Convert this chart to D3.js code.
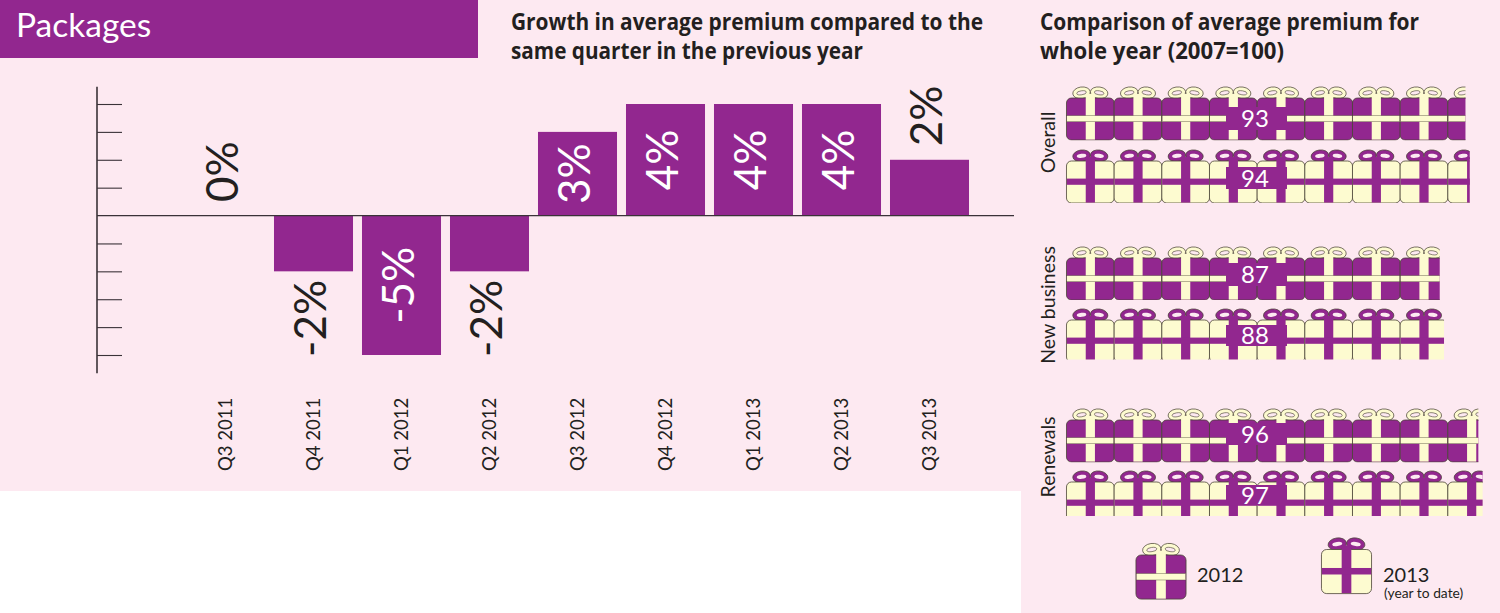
<!DOCTYPE html>
<html><head><meta charset="utf-8">
<script src="https://cdn.jsdelivr.net/npm/d3@7"></script>
<style>
html,body{margin:0;padding:0;background:#fff}
svg{display:block}
text{font-family:Lato,"Open Sans",sans-serif;fill:#231f20}
</style></head><body><div id="c"></div>
<script>
// ---- data ----
const quarters = ["Q3 2011","Q4 2011","Q1 2012","Q2 2012","Q3 2012","Q4 2012","Q1 2013","Q2 2013","Q3 2013"];
const growth = [0,-2,-5,-2,3,4,4,4,2];
const growthLabels = ["0%","-2%","-5%","-2%","3%","4%","4%","4%","2%"];
const tickValues = [-5,-4,-3,-2,-1,1,2,3,4];
const groups = ["Overall","New business","Renewals"];
const premium2012 = [93,87,96];
const premium2013 = [94,88,97];
const legendLabels = ["2012","2013","(year to date)"];
const titleLeft = ["Growth in average premium compared to the","same quarter in the previous year"];
const titleRight = ["Comparison of average premium for","whole year (2007=100)"];

// ---- layout and style ----
const W=1500,H=613;
const PURPLE="#92278f",CREAM="#fdfbd0",PINK="#fde9f1",INK="#231f20",EDGE="#4a4436";
const svg=d3.select("#c").append("svg").attr("width",W).attr("height",H);

svg.append("rect").attr("width",1021).attr("height",491).attr("fill",PINK);
svg.append("rect").attr("x",1021).attr("width",479).attr("height",H).attr("fill",PINK);
svg.append("rect").attr("width",478).attr("height",58).attr("fill",PURPLE);
svg.append("text").attr("x",16).attr("y",37).attr("font-size",33.5).style("fill","#fff").text("Packages");

function title(lines,x,len){
  lines.forEach((t,i)=>svg.append("text").attr("x",x).attr("y",29.5+i*29.5)
    .attr("font-size",23.5).attr("font-weight",700).style("font-family","'Open Sans'")
    .attr("textLength",len[i]).attr("lengthAdjust","spacingAndGlyphs").text(t));
}
title(titleLeft,511,[472,352]);
title(titleRight,1040,[379,244]);

// ---- bar chart ----
const x=d3.scaleBand().domain(quarters).range([181.5,973.5]).paddingInner(.102).paddingOuter(.051);
const y=d3.scaleLinear().domain([-5,4]).range([355,104]);
const chart=svg.append("g");

chart.append("g").selectAll("rect").data(quarters).join("rect")
  .attr("x",d=>x(d)).attr("width",x.bandwidth())
  .attr("y",(d,i)=>y(Math.max(0,growth[i])))
  .attr("height",(d,i)=>Math.abs(y(growth[i])-y(0)))
  .attr("fill",PURPLE);

const yAxis=d3.axisRight(y).tickValues(tickValues).tickSize(25).tickFormat("");
const yg=chart.append("g").attr("transform","translate(97,0)").call(yAxis);
yg.select(".domain").remove();
yg.selectAll("line").attr("stroke","#3a3238").attr("stroke-width",1.1);
chart.append("line").attr("x1",97).attr("x2",97).attr("y1",y(4.62)).attr("y2",y(-5.65)).attr("stroke","#3a3238").attr("stroke-width",1.6);
chart.append("line").attr("x1",97).attr("x2",1014).attr("y1",y(0)).attr("y2",y(0)).attr("stroke","#3a3238").attr("stroke-width",1.3);

const xAxis=d3.axisBottom(x).tickSize(0);
const xg=chart.append("g").call(xAxis);
xg.select(".domain").remove();
xg.selectAll("text").attr("transform",`translate(6,471) rotate(-90)`)
  .attr("x",0).attr("y",0).attr("dy",0).attr("text-anchor","start")
  .attr("font-size",18.5).style("font-family","Lato").style("fill",INK);

chart.append("g").selectAll("text").data(quarters).join("text")
  .attr("transform",(d,i)=>{
    const v=growth[i],cx=x(d)+x.bandwidth()/2+12.5;
    let py;
    if(Math.abs(v)>=3){py=(y(v)+y(0))/2;}
    else if(v>=0){py=y(v)-11-33;}
    else{py=y(v)+8+39;}
    return `translate(${cx},${py}) rotate(-90)`;
  })
  .attr("text-anchor","middle").attr("font-size",44)
  .style("fill",(d,i)=>Math.abs(growth[i])>=3?"#fff":INK)
  .text((d,i)=>growthLabels[i]);

// ---- pictogram ----
const px=d3.scaleLinear().domain([0,100]).range([1066.5,1495.5]);
const giftUnit=100/9;

function gift(g,cx,boxTop,kind,s){
  const w=47.7*s,h=42*s;
  const fill=kind==="2012"?PURPLE:CREAM, band=kind==="2012"?CREAM:PURPLE;
  const l=cx-w/2;
  const b=g.append("g");
  [-1,1].forEach(sd=>{
    const ex=cx+sd*8.8*s,ey=boxTop-5.2*s,rot=sd*8;
    b.append("ellipse").attr("cx",ex).attr("cy",ey).attr("rx",8.8*s).attr("ry",5.8*s)
      .attr("transform",`rotate(${rot} ${ex} ${ey})`).attr("fill",band).attr("stroke",EDGE).attr("stroke-width",.7);
    b.append("ellipse").attr("cx",ex).attr("cy",ey).attr("rx",4.8*s).attr("ry",2*s)
      .attr("transform",`rotate(${rot} ${ex} ${ey})`).attr("fill",PINK).attr("stroke",kind==="2012"?EDGE:"none").attr("stroke-width",.6);
  });
  g.append("rect").attr("x",l).attr("y",boxTop).attr("width",w).attr("height",h).attr("rx",5*s)
    .attr("fill",fill).attr("stroke",EDGE).attr("stroke-width",.8);
  g.append("rect").attr("x",cx-4.6*s).attr("y",boxTop-4*s).attr("width",9.2*s).attr("height",h+3.6*s).attr("fill",band);
  g.append("rect").attr("x",l+.3).attr("y",boxTop+17.6*s).attr("width",w-.6).attr("height",6.2*s).attr("fill",band)
    .attr("stroke",kind==="2012"?EDGE:"none").attr("stroke-width",.4);
}

const rowLayout=[
 {a:{top:98,bottom:140.5,p0:107,p1:130},b:{top:161,bottom:203,p0:167,p1:189},lab:142.5},
 {a:{top:258,bottom:300,p0:263,p1:286},b:{top:320,bottom:359.5,p0:325,p1:346},lab:305},
 {a:{top:420,bottom:462.5,p0:423,p1:445},b:{top:482,bottom:516,p0:485,p1:505},lab:457}
];

function row(value,kind,r,id){
  const clipId="clip"+id;
  svg.append("clipPath").attr("id",clipId).append("rect")
    .attr("x",px(0)-1).attr("y",r.top-13).attr("width",px(value)-px(0)+1).attr("height",r.bottom-r.top+13);
  const g=svg.append("g").attr("clip-path",`url(#${clipId})`);
  d3.range(0,Math.ceil(value/giftUnit)).forEach(i=>{
    gift(g,px((i+.5)*giftUnit),r.top,kind,1);
  });
  svg.append("rect").attr("x",1226).attr("width",61).attr("y",r.p0).attr("height",r.p1-r.p0).attr("fill",PURPLE);
  svg.append("text").attr("x",1255).attr("y",(r.p0+r.p1)/2+8.5).attr("text-anchor","middle")
    .attr("font-size",24).style("fill","#fff").text(value);
}

groups.forEach((name,i)=>{
  row(premium2012[i],"2012",rowLayout[i].a,"a"+i);
  row(premium2013[i],"2013",rowLayout[i].b,"b"+i);
  svg.append("text").attr("transform",`translate(1055,${rowLayout[i].lab}) rotate(-90)`)
    .attr("text-anchor","middle").attr("font-size",19.5).text(name);
});

// ---- legend ----
gift(svg.append("g"),1161,555,"2012",1.05);
gift(svg.append("g"),1346.5,549.5,"2013",1.05);
svg.append("text").attr("x",1197).attr("y",582).attr("font-size",20).text(legendLabels[0]);
svg.append("text").attr("x",1383).attr("y",582).attr("font-size",20).text(legendLabels[1]);
svg.append("text").attr("x",1384).attr("y",598).attr("font-size",13.8).text(legendLabels[2]);
</script></body></html>
